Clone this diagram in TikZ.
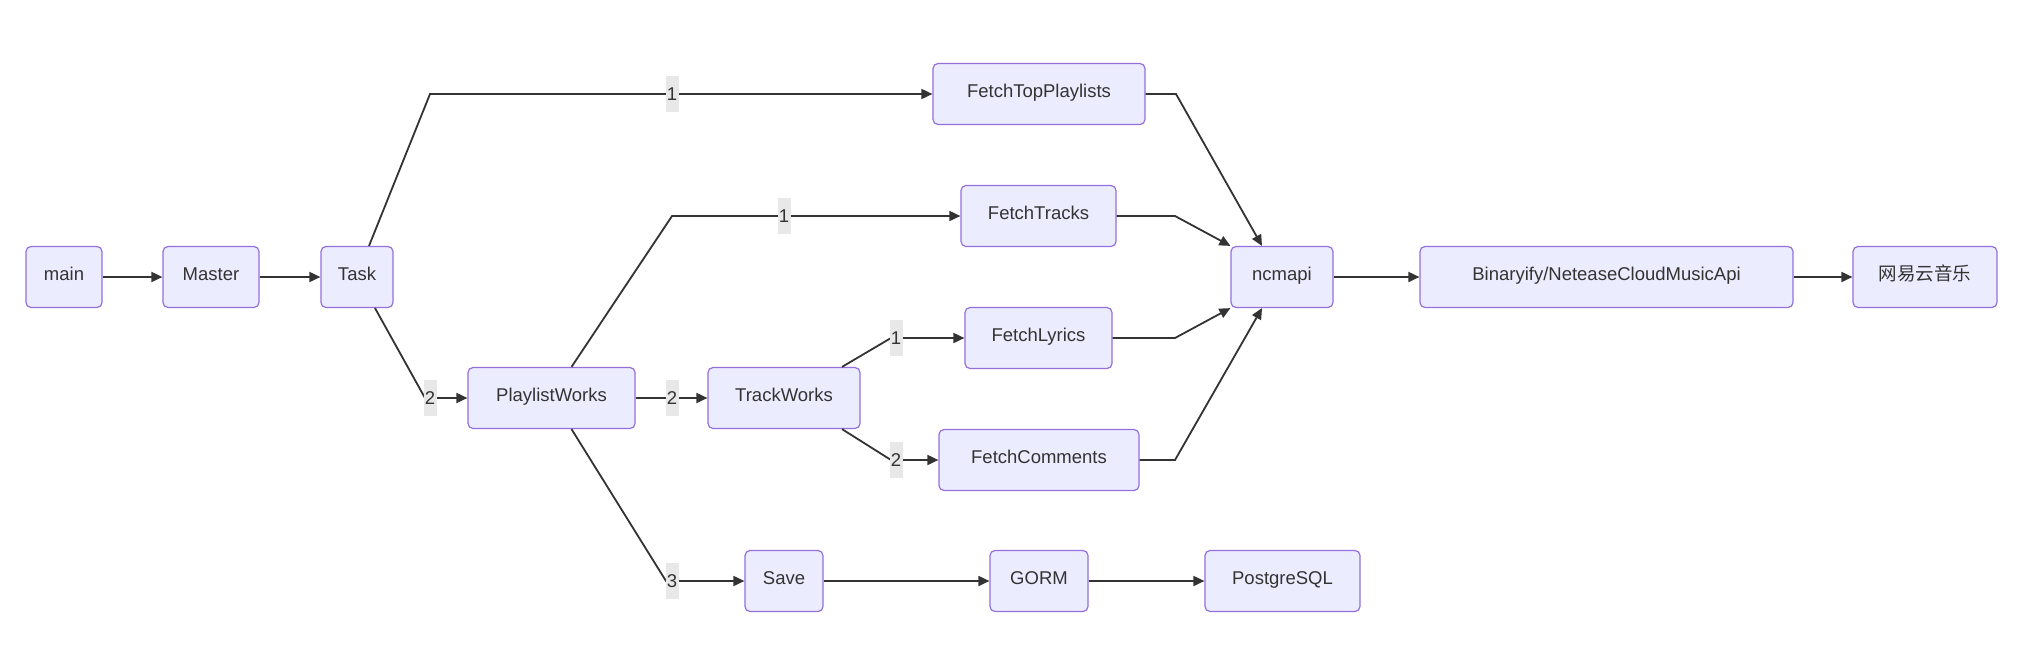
\documentclass[tikz,border=0pt]{standalone}
\usepackage{fontspec}
\setmainfont{Liberation Sans}
\newfontfamily\cjk{Noto Sans CJK SC}
\usetikzlibrary{arrows.meta,calc}
\definecolor{nodefill}{HTML}{ECECFF}
\definecolor{nodeline}{HTML}{9370DB}
\definecolor{ink}{HTML}{333333}
\definecolor{lblfill}{HTML}{E8E8E8}
\begin{document}
\begin{tikzpicture}[x=1pt,y=-1pt,
 box/.style={draw=nodeline,fill=nodefill,rounded corners=5pt,line width=1.2pt,minimum height=61pt,inner sep=0pt,text=ink,font=\fontsize{18.5}{22}\selectfont,text height=12pt,text depth=6pt},
 conn/.style={draw=ink,line width=1.8pt,-{Triangle[length=11pt,width=10pt]}},
 lbl/.style={fill=lblfill,inner sep=0pt,minimum width=13pt,minimum height=36pt,text=ink,font=\fontsize{18.5}{22}\selectfont}]
\useasboundingbox[fill=white] (0,0) rectangle (2044,670);
% nodes
\node[box,minimum width=76pt] (main) at (64,277) {main};
\node[box,minimum width=96pt] (master) at (211,277) {Master};
\node[box,minimum width=72pt] (task) at (357,277) {Task};
\node[box,minimum width=212pt] (ftp) at (1039,94) {FetchTopPlaylists};
\node[box,minimum width=155pt] (ft) at (1038.5,216) {FetchTracks};
\node[box,minimum width=102pt] (nc) at (1282,277) {ncmapi};
\node[box,minimum width=373pt] (bin) at (1606.5,277) {Binaryify/NeteaseCloudMusicApi};
\node[box,minimum width=144pt] (wy) at (1925,277) {\cjk 网易云音乐};
\node[box,minimum width=167pt] (pw) at (551.5,398) {PlaylistWorks};
\node[box,minimum width=152pt] (tw) at (784,398) {TrackWorks};
\node[box,minimum width=147pt] (fl) at (1038.5,338) {FetchLyrics};
\node[box,minimum width=200pt] (fc) at (1039,460) {FetchComments};
\node[box,minimum width=78pt] (save) at (784,581) {Save};
\node[box,minimum width=98pt] (gorm) at (1039,581) {GORM};
\node[box,minimum width=155pt] (pg) at (1282.5,581) {PostgreSQL};
% bend coordinates
\coordinate (c1) at (430,94);
\coordinate (c2) at (425,398);
\coordinate (c3) at (672,216);
\coordinate (c4) at (666,581);
\coordinate (c5) at (891,338);
\coordinate (c6) at (891,460);
\coordinate (r1) at (1176,94);
\coordinate (r2) at (1175,216);
\coordinate (r3) at (1175,338);
\coordinate (r4) at (1175,460);
% connectors
\draw[conn] (main) -- (master);
\draw[conn] (master) -- (task);
\draw[conn] ($(task.north)+(12,0)$) -- (c1) -- (ftp.west);
\draw[conn] ($(task.south)+(18,0)$) -- (c2) -- (pw.west);
\draw[conn] ($(pw.north)+(20,0)$) -- (c3) -- (ft.west);
\draw[conn] (pw) -- (tw);
\draw[conn] ($(pw.south)+(20,0)$) -- (c4) -- (save.west);
\draw[conn] ($(tw.north)+(58,0)$) -- (c5) -- (fl.west);
\draw[conn] ($(tw.south)+(58,0)$) -- (c6) -- (fc.west);
\draw[conn] (ftp.east) -- (r1) -- ($(nc.north)+(-20,0)$);
\draw[conn] (ft.east) -- (r2) -- (nc.north west);
\draw[conn] (fl.east) -- (r3) -- (nc.south west);
\draw[conn] (fc.east) -- (r4) -- ($(nc.south)+(-20,0)$);
\draw[conn] (nc) -- (bin);
\draw[conn] (bin) -- (wy);
\draw[conn] (save) -- (gorm);
\draw[conn] (gorm) -- (pg);
% edge labels
\node[lbl] (l1) at (672,94) {1};
\node[lbl] (l2) at (430,398) {2};
\node[lbl] (l3) at (784,216) {1};
\node[lbl] (l4) at (672,398) {2};
\node[lbl] (l5) at (672,581) {3};
\node[lbl] (l6) at (896,338) {1};
\node[lbl] (l7) at (896,460) {2};
\end{tikzpicture}
\end{document}
